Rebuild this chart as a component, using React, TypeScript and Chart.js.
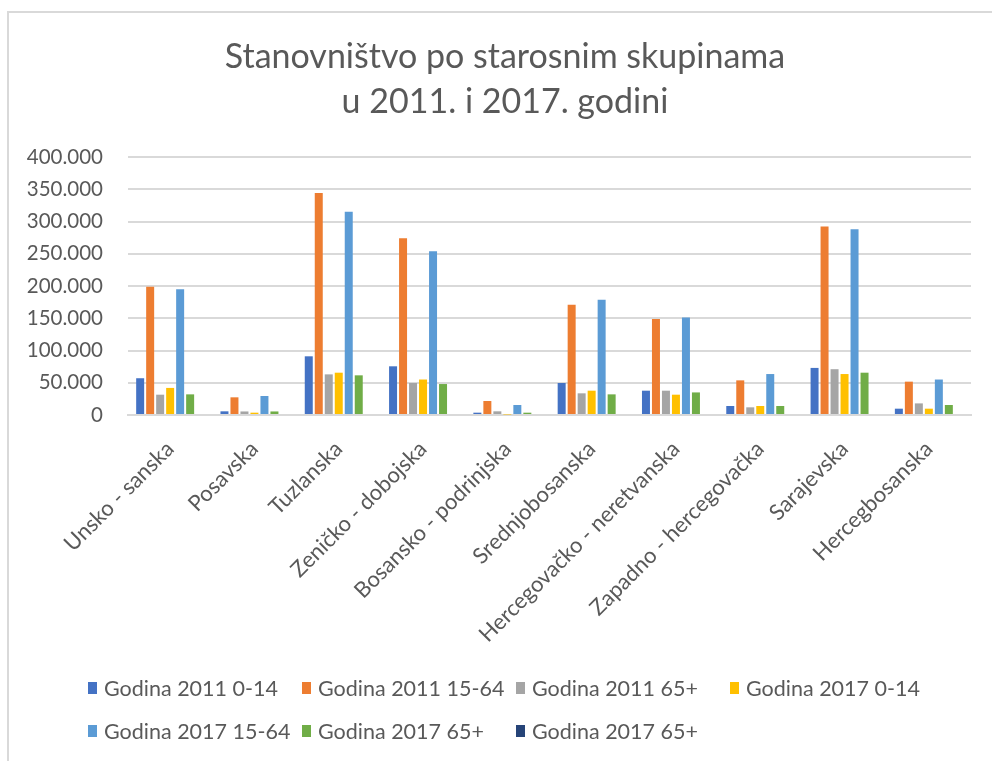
import React, { useEffect, useRef } from "react";
import { Chart, registerables } from "chart.js";

Chart.register(...registerables);

const categories = [
  "Unsko - sanska",
  "Posavska",
  "Tuzlanska",
  "Zeničko - dobojska",
  "Bosansko - podrinjska",
  "Srednjobosanska",
  "Hercegovačko - neretvanska",
  "Zapadno - hercegovačka",
  "Sarajevska",
  "Hercegbosanska",
];

const titleLines = ["Stanovništvo po starosnim skupinama", "u 2011. i 2017. godini"];

const seriesLabels = [
  "Godina 2011 0-14",
  "Godina 2011 15-64",
  "Godina 2011 65+",
  "Godina 2017 0-14",
  "Godina 2017 15-64",
  "Godina 2017 65+",
  "Godina 2017 65+",
];

const y2011_0_14 = [57000, 5700, 91000, 75500, 3600, 49600, 37700, 14000, 73000, 9800];
const y2011_15_64 = [199000, 27400, 344000, 274000, 21700, 171000, 148800, 53700, 292400, 51700];
const y2011_65 = [31500, 5500, 63000, 49600, 5700, 33600, 37700, 11900, 71000, 18000];
const y2017_0_14 = [42000, 3600, 65600, 55000, 800, 37700, 31500, 14000, 63500, 9800];
const y2017_15_64 = [195000, 29500, 315000, 254000, 15500, 178800, 151000, 63500, 287800, 55000];
const y2017_65 = [32000, 5500, 61500, 48000, 3600, 32000, 35000, 14000, 65600, 15500];
const y2017_65_extra = [null, null, null, null, null, null, null, null, null, null];

const yTicks = [0, 50000, 100000, 150000, 200000, 250000, 300000, 350000, 400000];

const colors = ["#4472C4", "#ED7D31", "#A5A5A5", "#FFC000", "#5B9BD5", "#70AD47", "#264478"];

const FONT = "Lato, 'Open Sans', sans-serif";
const TEXT = "#595959";

function fmt(v: number) {
  return String(Math.round(v)).replace(/\B(?=(\d{3})+(?!\d))/g, ".");
}

const titlePlugin = {
  id: "titleLines",
  afterDraw(chart: any) {
    const ctx = chart.ctx;
    ctx.save();
    ctx.font = `34px ${FONT}`;
    ctx.fillStyle = TEXT;
    ctx.textAlign = "center";
    ctx.textBaseline = "alphabetic";
    const baselines = [68, 113];
    titleLines.forEach((t, i) => ctx.fillText(t, 505, baselines[i]));
    ctx.restore();
  },
};

const gridLegend = {
  id: "gridLegend",
  afterDraw(chart: any) {
    const ctx = chart.ctx;
    const ds = chart.data.datasets;
    const left = 88;
    const colW = 214;
    const rowY = [688, 731];
    ctx.save();
    ctx.font = `21.5px ${FONT}`;
    ctx.textBaseline = "middle";
    ctx.textAlign = "left";
    ds.forEach((d: any, i: number) => {
      const col = i % 4;
      const row = Math.floor(i / 4);
      const x = left + col * colW;
      const y = rowY[row];
      ctx.fillStyle = d.backgroundColor;
      ctx.fillRect(x, y - 6, 9, 12);
      ctx.fillStyle = TEXT;
      ctx.fillText(d.label, x + 16, y + 1);
    });
    ctx.restore();
  },
};

export default function App() {
  const ref = useRef<HTMLCanvasElement | null>(null);
  useEffect(() => {
    if (!ref.current) return;
    const data = [y2011_0_14, y2011_15_64, y2011_65, y2017_0_14, y2017_15_64, y2017_65, y2017_65_extra];
    const chart = new Chart(ref.current, {
      type: "bar",
      data: {
        labels: categories,
        datasets: data.map((d, i) => ({
          label: seriesLabels[i],
          data: d as any,
          backgroundColor: colors[i],
          borderWidth: 0,
          barPercentage: 0.8,
          categoryPercentage: 0.83,
        })),
      },
      options: {
        animation: false,
        responsive: false,
        maintainAspectRatio: false,
        layout: { padding: { left: 0, right: 21, top: 157, bottom: 106 } },
        plugins: {
          legend: { display: false },
          tooltip: { enabled: false },
          title: { display: false },
        },
        scales: {
          x: {
            grid: { display: false },
            border: { display: true, color: "#d9d9d9", width: 2 },
            ticks: {
              color: TEXT,
              font: { family: FONT, size: 22 },
              maxRotation: 45,
              minRotation: 45,
              autoSkip: false,
              padding: 13,
            },
            afterFit(scale: any) {
              scale.height = 240;
            },
          },
          y: {
            min: 0,
            max: 400000,
            afterBuildTicks(scale: any) {
              scale.ticks = yTicks.map((v) => ({ value: v }));
            },
            grid: { color: "#d9d9d9", lineWidth: 2, drawTicks: false },
            border: { display: false },
            ticks: {
              color: TEXT,
              font: { family: FONT, size: 20.5 },
              padding: 25,
              callback: (v: any) => fmt(Number(v)),
            },
            afterFit(scale: any) {
              scale.width = 128;
            },
          },
        },
      },
      plugins: [titlePlugin, gridLegend],
    });
    return () => chart.destroy();
  }, []);

  return (
    <div style={{ position: "fixed", left: 0, top: 0, width: 992, height: 761, background: "#fff", overflow: "hidden" }}>
      <div style={{ position: "absolute", left: 7, top: 11, right: 0, height: 2, background: "#d9d9d9" }} />
      <div style={{ position: "absolute", left: 7, top: 11, width: 2, bottom: 0, background: "#d9d9d9" }} />
      <canvas ref={ref} width={992} height={761} style={{ position: "absolute", left: 0, top: 0 }} />
    </div>
  );
}
